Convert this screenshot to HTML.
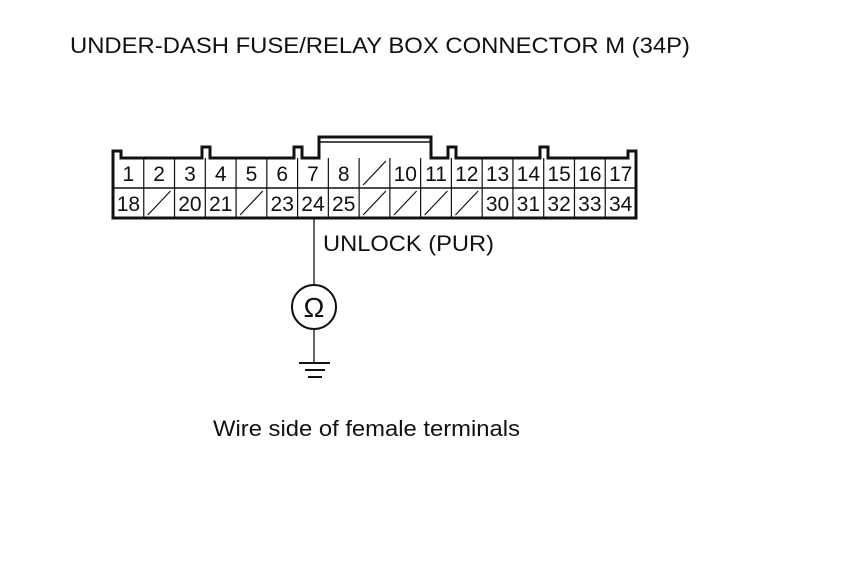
<!DOCTYPE html>
<html><head><style>
html,body{margin:0;padding:0;background:#fff;}
svg{display:block;}
text{font-family:"Liberation Sans",Arial,sans-serif;fill:#111;}
</style></head><body>
<svg width="860" height="576" viewBox="0 0 860 576" xmlns="http://www.w3.org/2000/svg">
<text x="70" y="53" font-size="22" textLength="620" lengthAdjust="spacingAndGlyphs">UNDER-DASH FUSE/RELAY BOX CONNECTOR M (34P)</text>
<g fill="none" stroke="#111">
<path d="M113,218 V151 H121 V158 H202 V147 H210 V158 H294 V147 H302 V158 H319 V137 H431 V158 H448 V147 H456 V158 H540 V147 H548 V158 H628 V151 H636 V218 Z" stroke-width="3"/>
<path d="M319,142 H431" stroke-width="1.5"/>
<path d="M113,188 H636" stroke-width="1.5"/>
</g>
<g id="cells" stroke="#111" stroke-width="1.2" fill="none"></g>
<g id="nums" font-size="21"></g>
<line x1="314" y1="218" x2="314" y2="285" stroke="#111" stroke-width="1.3"/>
<circle cx="314" cy="307" r="22" fill="none" stroke="#111" stroke-width="2"/>
<text x="314" y="317" font-size="28" text-anchor="middle">Ω</text>
<line x1="314" y1="329" x2="314" y2="363" stroke="#111" stroke-width="1.3"/>
<line x1="299" y1="363" x2="330" y2="363" stroke="#111" stroke-width="2"/>
<line x1="305" y1="370" x2="325" y2="370" stroke="#111" stroke-width="2"/>
<line x1="308" y1="377" x2="322" y2="377" stroke="#111" stroke-width="2"/>
<text x="323" y="251" font-size="22" textLength="171" lengthAdjust="spacingAndGlyphs">UNLOCK (PUR)</text>
<text x="213" y="436" font-size="22" textLength="307" lengthAdjust="spacingAndGlyphs">Wire side of female terminals</text>
<script>
(function(){
var ns="http://www.w3.org/2000/svg";
var x0=113,w=(636-113)/17;
var g=document.getElementById("cells"),t=document.getElementById("nums");
function el(p,n,a,txt){var e=document.createElementNS(ns,n);for(var k in a)e.setAttribute(k,a[k]);if(txt)e.textContent=txt;p.appendChild(e);}
for(var i=1;i<17;i++){var x=x0+i*w;el(g,"line",{x1:x,y1:158,x2:x,y2:218});}
var tr=["1","2","3","4","5","6","7","8","","10","11","12","13","14","15","16","17"];
var br=["18","","20","21","","23","24","25","","","","","30","31","32","33","34"];
for(var i=0;i<17;i++){
 var cx=x0+i*w+w/2;
 if(tr[i])el(t,"text",{x:cx,y:181,"text-anchor":"middle"},tr[i]);
 else el(g,"line",{x1:x0+i*w+4,y1:185,x2:x0+(i+1)*w-4,y2:161});
 if(br[i])el(t,"text",{x:cx,y:211,"text-anchor":"middle"},br[i]);
 else el(g,"line",{x1:x0+i*w+4,y1:215,x2:x0+(i+1)*w-4,y2:191});
}
})();
</script>
</svg>
</body></html>
